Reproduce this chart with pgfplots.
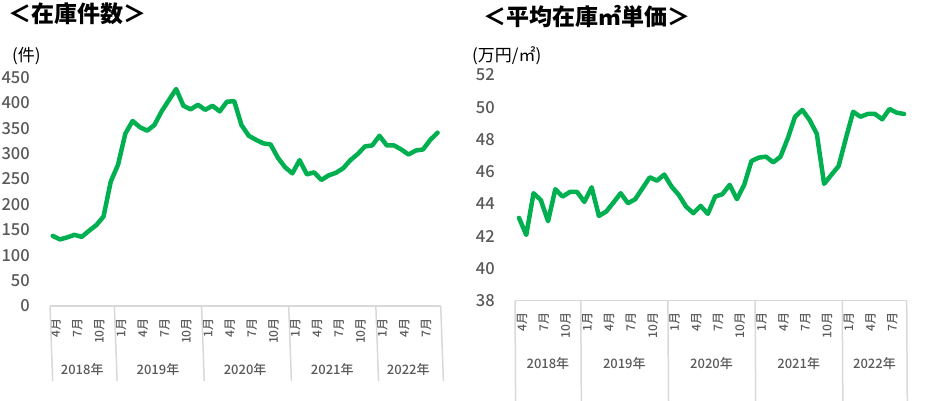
\documentclass[border=0pt]{standalone}
\usepackage{fontspec}
\setmainfont{Noto Sans CJK JP}
\newfontfamily\medfont{Noto Sans CJK JP Medium}
\usepackage{pgfplots}
\pgfplotsset{compat=1.18}
\definecolor{xlgreen}{HTML}{00B050}
\definecolor{boxgray}{HTML}{D9D9D9}
\definecolor{tickgray}{HTML}{595959}
\pgfplotsset{
  mystyle/.style={
    scale only axis,
    clip=false,
    axis line style={draw=none},
    major tick length=0pt,
    /pgf/number format/assume math mode=true,
    xtick={0,3,...,51},
    xticklabels={4月,7月,10月,1月,4月,7月,10月,1月,4月,7月,10月,1月,4月,7月,10月,1月,4月,7月},
    xticklabel style={font=\medfont\fontsize{12}{12}\selectfont, text=tickgray, inner sep=0pt, xshift=3pt, yshift=-12pt, rotate=90, anchor=east},
    yticklabel style={font=\medfont\fontsize{16.5}{16.5}\selectfont, text=tickgray, inner sep=0pt, anchor=east, xshift=-20pt},
  },
  myline/.style={color=xlgreen, line width=4.5pt, line join=round, line cap=round},
}
\tikzset{yearlab/.style={font=\medfont\fontsize{13}{13}\selectfont, text=tickgray, inner sep=0pt},
  boxline/.style={boxgray, line width=1.5pt}}
\begin{document}
\begin{tikzpicture}
\useasboundingbox (0,0) rectangle (932pt,401pt);
% titles
\node[anchor=west, inner sep=0pt, font=\fontsize{23}{23}\selectfont\bfseries] at (8pt,387pt) {＜在庫件数＞};
\node[anchor=west, inner sep=0pt, font=\fontsize{23}{23}\selectfont\bfseries] at (483pt,384pt) {＜平均在庫㎡単価＞};
\node[anchor=west, inner sep=0pt, font=\fontsize{17}{17}\selectfont] at (12pt,345pt) {(件)};
\node[anchor=west, inner sep=0pt, font=\fontsize{17}{17}\selectfont] at (472pt,345pt) {(万円/㎡)};

\begin{axis}[mystyle, at={(50pt,95pt)}, anchor=south west,
  width=390.7pt, height=228.7pt,
  xmin=-0.37, xmax=53.43, ymin=0, ymax=450, ytick={0,50,...,450}]
\addplot[myline] coordinates {
(0,138)(1,131)(2,135)(3,140)(4,136)(5,148)(6,159)(7,176)(8,245)(9,278)(10,339)(11,364)(12,352)(13,345)(14,356)(15,383)(16,405)(17,427)(18,394)(19,387)(20,396)(21,386)(22,394)(23,383)(24,402)(25,403)(26,356)(27,335)(28,327)(29,320)(30,318)(31,292)(32,273)(33,261)(34,287)(35,259)(36,263)(37,248)(38,257)(39,262)(40,271)(41,287)(42,299)(43,314)(44,316)(45,335)(46,316)(47,316)(48,308)(49,298)(50,306)(51,308)(52,327)(53,341)};
\draw[boxline] (axis cs:-0.37,0) -- (axis cs:53.43,0);
\draw[boxline] (axis cs:-0.37,0) -- ++(0,-75pt);
\draw[boxline] (axis cs:8.5,0) -- ++(0,-75pt);
\draw[boxline] (axis cs:20.5,0) -- ++(0,-75pt);
\draw[boxline] (axis cs:32.5,0) -- ++(0,-75pt);
\draw[boxline] (axis cs:44.5,0) -- ++(0,-75pt);
\draw[boxline] (axis cs:53.43,0) -- ++(0,-75pt);
\node[yearlab] at (axis cs:4.07,0) [yshift=-64pt] {2018年};
\node[yearlab] at (axis cs:14.5,0) [yshift=-64pt] {2019年};
\node[yearlab] at (axis cs:26.5,0) [yshift=-64pt] {2020年};
\node[yearlab] at (axis cs:38.5,0) [yshift=-64pt] {2021年};
\node[yearlab] at (axis cs:48.97,0) [yshift=-64pt] {2022年};
\end{axis}

\begin{axis}[mystyle, at={(515pt,100.5pt)}, anchor=south west,
  width=391.7pt, height=225.5pt,
  xmin=-0.55, xmax=53.37, ymin=38, ymax=52, ytick={38,40,...,52}]
\addplot[myline] coordinates {
(0,43.13)(1,42.07)(2,44.66)(3,44.24)(4,42.92)(5,44.91)(6,44.45)(7,44.74)(8,44.74)(9,44.12)(10,45.03)(11,43.25)(12,43.52)(13,44.08)(14,44.66)(15,44.04)(16,44.29)(17,44.97)(18,45.65)(19,45.44)(20,45.82)(21,45.07)(22,44.55)(23,43.83)(24,43.42)(25,43.87)(26,43.38)(27,44.45)(28,44.60)(29,45.18)(30,44.29)(31,45.18)(32,46.66)(33,46.87)(34,46.93)(35,46.58)(36,46.93)(37,48.07)(38,49.41)(39,49.83)(40,49.21)(41,48.34)(42,45.24)(43,45.80)(44,46.35)(45,48.07)(46,49.72)(47,49.41)(48,49.58)(49,49.58)(50,49.25)(51,49.89)(52,49.66)(53,49.58)};
\draw[boxline] (axis cs:-0.55,38) -- (axis cs:53.37,38);
\draw[boxline] (axis cs:-0.55,38) -- ++(0,-76pt);
\draw[boxline] (axis cs:8.5,38) -- ++(0,-76pt);
\draw[boxline] (axis cs:20.5,38) -- ++(0,-76pt);
\draw[boxline] (axis cs:32.5,38) -- ++(0,-76pt);
\draw[boxline] (axis cs:44.5,38) -- ++(0,-76pt);
\draw[boxline] (axis cs:53.37,38) -- ++(0,-76pt);
\node[yearlab] at (axis cs:3.98,38) [yshift=-63pt] {2018年};
\node[yearlab] at (axis cs:14.5,38) [yshift=-63pt] {2019年};
\node[yearlab] at (axis cs:26.5,38) [yshift=-63pt] {2020年};
\node[yearlab] at (axis cs:38.5,38) [yshift=-63pt] {2021年};
\node[yearlab] at (axis cs:48.93,38) [yshift=-63pt] {2022年};
\end{axis}
\end{tikzpicture}
\end{document}
